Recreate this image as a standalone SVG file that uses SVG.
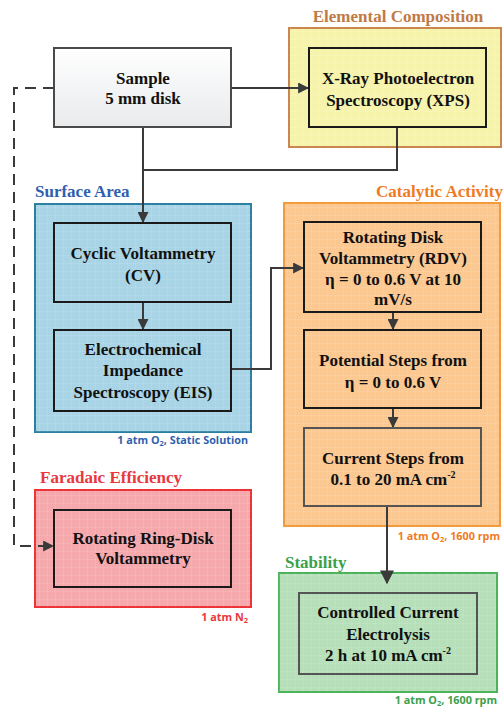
<svg xmlns="http://www.w3.org/2000/svg" width="504" height="709" viewBox="0 0 504 709">
<style>
.t{font-family:"Liberation Serif","Times New Roman",serif;font-weight:bold;font-size:17px;fill:#111;text-anchor:middle}
.h{font-family:"Liberation Serif","Times New Roman",serif;font-weight:bold;font-size:17px}
.n{font-family:"Open Sans","Liberation Sans",sans-serif;font-weight:bold;font-size:10.8px;text-anchor:end}
.box{fill:none;stroke:#1a1a1a;stroke-width:2}
.boxg{fill:none;stroke:#555;stroke-width:2}
.c{fill:none;stroke:#3a3a3a;stroke-width:2}
.grid{fill:url(#grid)}
</style>
<defs>
<linearGradient id="sg" x1="0" y1="0" x2="0" y2="1">
<stop offset="0" stop-color="#ffffff"/>
<stop offset="1" stop-color="#e8eaec"/>
</linearGradient>
<pattern id="grid" width="8" height="8" patternUnits="userSpaceOnUse">
<path d="M8 0V8M0 8H8" fill="none" stroke="#ffffff" stroke-opacity="0.18" stroke-width="1"/>
</pattern>
<marker id="a" viewBox="0 0 10 10" refX="9" refY="5" markerWidth="5.5" markerHeight="5.5" orient="auto" markerUnits="strokeWidth">
<path d="M0 0L10 5L0 10z" fill="#3a3a3a"/>
</marker>
<marker id="ab" viewBox="0 0 10 10" refX="9" refY="5" markerWidth="7" markerHeight="7.5" orient="auto" markerUnits="strokeWidth">
<path d="M0 0L10 5L0 10z" fill="#3a3a3a"/>
</marker>
</defs>
<rect width="504" height="709" fill="#ffffff"/>

<g id="group-elemental">
<rect x="289" y="28" width="212" height="119" fill="#f6f3ad" stroke="#c98650" stroke-width="2"/>
<rect x="289" y="28" width="212" height="119" class="grid"/>
<text x="398" y="22" class="h" fill="#c07a45" text-anchor="middle">Elemental Composition</text>
</g>
<g id="group-surface">
<rect x="35" y="204" width="216" height="228" fill="#a8d4e6" stroke="#2d7fa1" stroke-width="2"/>
<rect x="35" y="204" width="216" height="228" class="grid"/>
<text x="35" y="197" class="h" fill="#2f5fae">Surface Area</text>
<text x="248" y="444" class="n" fill="#2f5fae">1 atm O<tspan font-size="7.5" dy="2">2</tspan><tspan dy="-2">, Static Solution</tspan></text>
</g>
<g id="group-catalytic">
<rect x="284" y="203" width="216" height="323" fill="#fbc891" stroke="#f39a3a" stroke-width="2"/>
<rect x="284" y="203" width="216" height="323" class="grid"/>
<text x="503" y="197" class="h" fill="#f07a22" text-anchor="end">Catalytic Activity</text>
<text x="500" y="540" class="n" fill="#f07a22">1 atm O<tspan font-size="7.5" dy="2">2</tspan><tspan dy="-2">, 1600 rpm</tspan></text>
</g>
<g id="group-faradaic">
<rect x="35" y="490" width="216" height="117" fill="#f5a9ac" stroke="#ec3338" stroke-width="2"/>
<rect x="35" y="490" width="216" height="117" class="grid"/>
<text x="40" y="483" class="h" fill="#e8383e">Faradaic Efficiency</text>
<text x="248" y="621" class="n" fill="#e8383e">1 atm N<tspan font-size="7.5" dy="2">2</tspan></text>
</g>
<g id="group-stability">
<rect x="279" y="573" width="218" height="119" fill="#b6dfba" stroke="#4db35a" stroke-width="2"/>
<rect x="279" y="573" width="218" height="119" class="grid"/>
<text x="285" y="568" class="h" fill="#3aa04a">Stability</text>
<text x="497" y="704" class="n" fill="#3aa04a">1 atm O<tspan font-size="7.5" dy="2">2</tspan><tspan dy="-2">, 1600 rpm</tspan></text>
</g>

<g id="connectors">
<path class="c" d="M231 88H308" marker-end="url(#a)"/>
<path class="c" d="M143 127V170"/>
<path class="c" d="M397 127V170H143V222" marker-end="url(#a)"/>
<path class="c" d="M143 302V329" marker-end="url(#a)"/>
<path class="c" d="M231 369H271V268H303" marker-end="url(#a)"/>
<path class="c" d="M393 312V329" marker-end="url(#a)"/>
<path class="c" d="M393 408V427" marker-end="url(#a)"/>
<path class="c" d="M387 506V583" marker-end="url(#ab)"/>
<path class="c" d="M54 88H14V546H53" stroke-dasharray="11 7" marker-end="url(#a)"/>
</g>

<g id="sample">
<rect x="54" y="48" width="177" height="79" fill="url(#sg)" stroke="#4a4a4a" stroke-width="2"/>
<text x="143" y="84" class="t">Sample</text>
<text x="143" y="104" class="t">5 mm disk</text>
</g>
<g id="xps">
<rect x="309" y="48" width="177" height="79" class="box"/>
<text x="398" y="84" class="t">X-Ray Photoelectron</text>
<text x="398" y="106" class="t">Spectroscopy (XPS)</text>
</g>
<g id="cv">
<rect x="54" y="223" width="177" height="79" class="box"/>
<text x="143" y="259" class="t">Cyclic Voltammetry</text>
<text x="143" y="281" class="t">(CV)</text>
</g>
<g id="eis">
<rect x="54" y="330" width="177" height="81" class="box"/>
<text x="143" y="355" class="t">Electrochemical</text>
<text x="143" y="376" class="t">Impedance</text>
<text x="143" y="398" class="t">Spectroscopy (EIS)</text>
</g>
<g id="rdv">
<rect x="304" y="222" width="177" height="90" class="box"/>
<text x="393" y="243" class="t">Rotating Disk</text>
<text x="393" y="264" class="t">Voltammetry (RDV)</text>
<text x="393" y="285" class="t">η = 0 to 0.6 V at 10</text>
<text x="393" y="305" class="t">mV/s</text>
</g>
<g id="potential">
<rect x="304" y="330" width="177" height="78" class="box"/>
<text x="393" y="366" class="t">Potential Steps from</text>
<text x="393" y="388" class="t">η = 0 to 0.6 V</text>
</g>
<g id="current">
<rect x="304" y="428" width="177" height="78" class="boxg"/>
<text x="393" y="464" class="t">Current Steps from</text>
<text x="393" y="485" class="t">0.1 to 20 mA cm<tspan font-size="10" dy="-7">-2</tspan></text>
</g>
<g id="rrdv">
<rect x="54" y="510" width="177" height="77" class="box"/>
<text x="143" y="544" class="t">Rotating Ring-Disk</text>
<text x="143" y="564" class="t">Voltammetry</text>
</g>
<g id="cce">
<rect x="299" y="593" width="178" height="81" class="boxg"/>
<text x="388" y="618" class="t">Controlled Current</text>
<text x="388" y="640" class="t">Electrolysis</text>
<text x="388" y="661" class="t">2 h at 10 mA cm<tspan font-size="10" dy="-7">-2</tspan></text>
</g>
</svg>
